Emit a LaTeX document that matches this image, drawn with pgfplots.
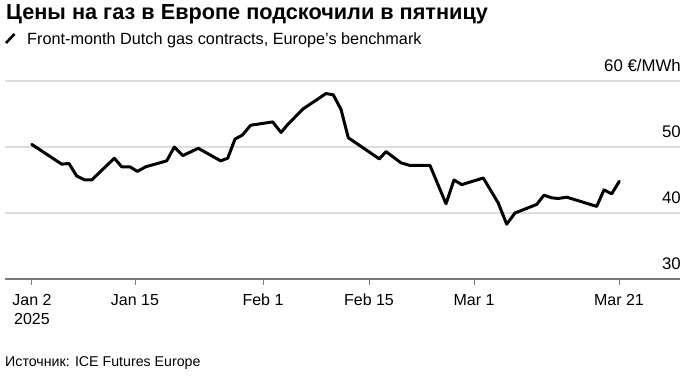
\documentclass[border=0pt]{standalone}
\usepackage{pgfplots}
\pgfplotsset{compat=1.18}
\usepackage{fontspec}
\setmainfont{Liberation Sans}
\definecolor{gridc}{HTML}{DDDDDD}
\definecolor{basec}{HTML}{7A7A7A}
\begin{document}
\begin{tikzpicture}
\useasboundingbox (0pt,0pt) rectangle (689pt,-379pt);
\node[anchor=base west, inner sep=0pt, font=\bfseries\fontsize{21.7}{24}\selectfont] at (6pt,-19.5pt) {Цены на газ в Европе подскочили в пятницу};
\draw[line width=2.6pt, black] (6pt,-43pt) -- (14.5pt,-34pt);
\node[anchor=base west, inner sep=0pt, font=\fontsize{16.25}{19}\selectfont] at (27pt,-44.3pt) {Front-month Dutch gas contracts, Europe's benchmark};
\node[anchor=base west, inner sep=0pt, font=\fontsize{14.2}{17}\selectfont] at (5pt,-366.7pt) {Источник: ICE Futures Europe};
\begin{axis}[
  at={(5pt,-279pt)}, anchor=south west,
  scale only axis, width=675pt, height=198pt,
  xmin=5, xmax=680, ymin=30, ymax=60,
  axis x line*=bottom, axis y line*=right,
  x axis line style={basec, line width=2.5pt, -},
  y axis line style={draw=none},
  ytick={30,40,50,60},
  yticklabels={30,40,50,60 €/MWh},
  ytick style={draw=none},
  yticklabel style={anchor=base east, inner sep=0pt, font=\fontsize{16.8}{19}\selectfont, yshift=9.3pt, xshift=-5pt},
  ymajorgrids,
  major grid style={gridc, line width=1.3pt},
  xtick={32,135,263,369,474,619},
  xticklabels={{\vphantom{bJ}Jan 2\\2025},{\vphantom{bJ}Jan 15},{\vphantom{bJ}Feb 1},{\vphantom{bJ}Feb 15},{\vphantom{bJ}Mar 1},{\vphantom{bJ}Mar 21}},
  xtick style={basec, line width=1pt},
  tick align=outside, major tick length=6pt,
  xticklabel style={align=center, anchor=north, inner sep=0pt, yshift=-9pt, font=\fontsize{16}{19}\selectfont},
  clip=false,
]
\addplot[black, line width=3pt, line join=round, line cap=round] coordinates {
(31.7,50.4) (61.7,47.4) (69,47.5) (76.7,45.6) (85,45.0) (91.7,45.0)
(114.3,48.3) (121.7,47.0) (130,47.0) (137.3,46.3) (145.7,47.0)
(166.7,47.9) (174.3,50.0) (182.7,48.7) (198.3,49.8) (220.7,47.9)
(227.7,48.3) (235,51.2) (242.3,51.8) (250.7,53.3) (272.7,53.8)
(281,52.2) (288.3,53.5) (303.3,55.8) (326,58.1) (333.3,57.9)
(341,55.7) (348.3,51.4) (379.3,48.2) (386,49.3) (401,47.6)
(410,47.2) (430,47.2) (446,41.4) (454,45.0) (461.7,44.3)
(483.3,45.3) (498.3,41.5) (506.7,38.3) (515,40.0) (536.7,41.3)
(544,42.7) (551.7,42.3) (558.3,42.2) (566.7,42.4) (596.7,41.0)
(604,43.5) (611.7,42.9) (619.3,44.8)
};
\end{axis}
\end{tikzpicture}
\end{document}
